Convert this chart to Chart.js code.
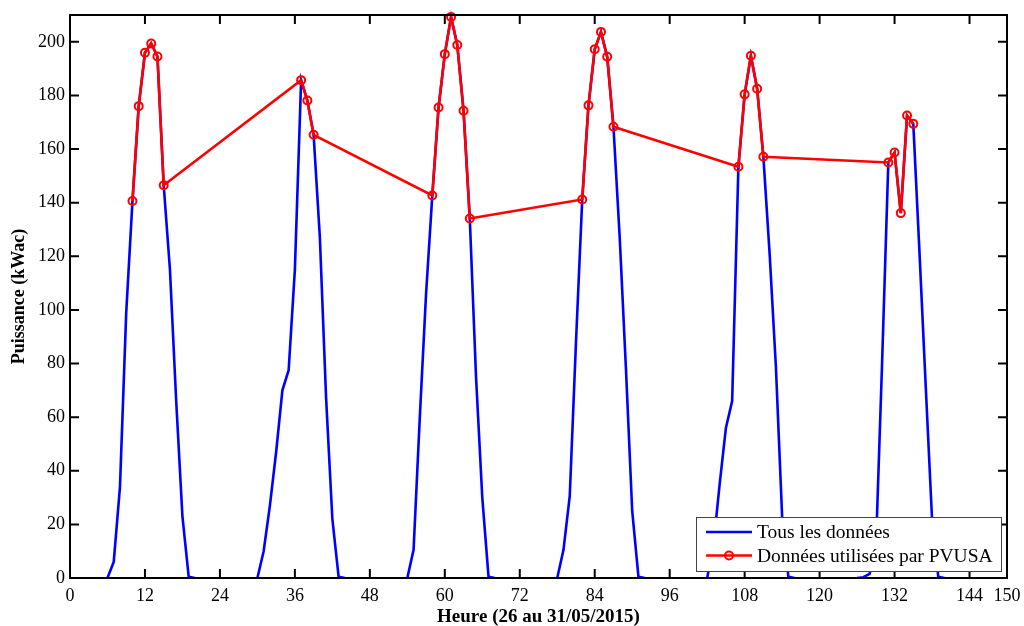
<!DOCTYPE html>
<html>
<head>
<meta charset="utf-8">
<script src="https://cdn.jsdelivr.net/npm/chart.js@4.4.1/dist/chart.umd.min.js"></script>
<style>
  body { margin: 0; background: #fff; overflow: hidden; }
  #wrap { width: 1024px; height: 626px; }
</style>
</head>
<body>
<div id="wrap"><canvas id="puissanceChart"></canvas></div>
<script>
// Tous les données : une valeur par heure, null = coupure entre deux jours
const heures = [
  6, 7, 8, 9, 10, 11, 12, 13, 14, 15, 16, 17, 18, 19, 20, 25,
  30, 31, 32, 33, 34, 35, 36, 37, 38, 39, 40, 41, 42, 43, 44, 49,
  54, 55, 56, 57, 58, 59, 60, 61, 62, 63, 64, 65, 66, 67, 68, 73,
  78, 79, 80, 81, 82, 83, 84, 85, 86, 87, 88, 89, 90, 91, 92, 97,
  102, 103, 104, 105, 106, 107, 108, 109, 110, 111, 112, 113, 114, 115, 116, 121,
  126, 127, 128, 129, 130, 131, 132, 133, 134, 135, 136, 137, 138, 139, 140
];
const puissanceTous = [
  0, 6, 34, 99, 140.6, 176, 195.9, 199.4, 194.5, 146.5, 115, 66, 23, 0.5, 0, null,
  0, 10, 27, 47, 70, 77.5, 115, 185.7, 178.1, 165.3, 127, 67, 22, 0.5, 0, null,
  0, 10.5, 60, 106, 142.7, 175.5, 195.4, 209.3, 198.8, 174.3, 134.1, 75, 30, 0.5, 0, null,
  0, 10.5, 30.5, 88, 141.2, 176.3, 197.2, 203.7, 194.4, 168.3, 127, 78, 25, 0.5, 0, null,
  0, 12, 35, 56, 66, 153.4, 180.4, 194.8, 182.5, 157.1, 121, 79, 23, 0.5, 0, null,
  0, 0.3, 1.5, 10, 80, 155, 158.7, 136.1, 172.5, 169.4, 121, 71, 22, 0.5, 0
];

// Données utilisées par PVUSA
const heuresPVUSA = [
  10, 11, 12, 13, 14, 15,
  37, 38, 39,
  58, 59, 60, 61, 62, 63, 64,
  82, 83, 84, 85, 86, 87,
  107, 108, 109, 110, 111,
  131, 132, 133, 134, 135
];
const puissancePVUSA = [
  140.6, 176, 195.9, 199.4, 194.5, 146.5,
  185.7, 178.1, 165.3,
  142.7, 175.5, 195.4, 209.3, 198.8, 174.3, 134.1,
  141.2, 176.3, 197.2, 203.7, 194.4, 168.3,
  153.4, 180.4, 194.8, 182.5, 157.1,
  155, 158.7, 136.1, 172.5, 169.4
];

const ticksHeure = [0, 12, 24, 36, 48, 60, 72, 84, 96, 108, 120, 132, 144, 150];
const ticksPuissance = [0, 20, 40, 60, 80, 100, 120, 140, 160, 180, 200];

const serif = '"Liberation Serif", "Times New Roman", serif';

function toPoints(xs, ys) {
  return xs.map((h, i) => ({ x: h, y: ys[i] }));
}

// cadre noir + graduations vers l'intérieur (haut/bas/gauche/droite)
const cadrePlugin = {
  id: 'cadre',
  afterDatasetsDraw(chart) {
    const { ctx, chartArea: a, scales: { x, y } } = chart;
    const tl = 9;
    ctx.save();
    ctx.strokeStyle = '#000';
    ctx.lineWidth = 2;
    ctx.beginPath();
    x.ticks.forEach(t => {
      const px = x.getPixelForValue(t.value);
      ctx.moveTo(px, a.bottom); ctx.lineTo(px, a.bottom - tl);
      ctx.moveTo(px, a.top); ctx.lineTo(px, a.top + tl);
    });
    y.ticks.forEach(t => {
      const py = y.getPixelForValue(t.value);
      ctx.moveTo(a.left, py); ctx.lineTo(a.left + tl, py);
      ctx.moveTo(a.right, py); ctx.lineTo(a.right - tl, py);
    });
    ctx.stroke();
    ctx.strokeRect(a.left, a.top, a.right - a.left, a.bottom - a.top);
    ctx.restore();
  }
};

// légende en bas à droite, par-dessus les courbes
const legendePlugin = {
  id: 'legende',
  afterDraw(chart) {
    const { ctx, chartArea: a } = chart;
    const w = 305, h = 54;
    const x0 = a.right - 6 - w;
    const y0 = a.bottom - 7 - h;
    ctx.save();
    ctx.fillStyle = '#fff';
    ctx.fillRect(x0, y0, w, h);
    ctx.strokeStyle = '#444';
    ctx.lineWidth = 1;
    ctx.strokeRect(x0 + 0.5, y0 + 0.5, w, h);
    ctx.font = '19.5px ' + serif;
    ctx.textBaseline = 'middle';
    chart.data.datasets.forEach((ds, i) => {
      const cy = y0 + 15 + i * 23.5;
      ctx.strokeStyle = ds.borderColor;
      ctx.lineWidth = ds.borderWidth;
      ctx.beginPath();
      ctx.moveTo(x0 + 10, cy);
      ctx.lineTo(x0 + 56, cy);
      ctx.stroke();
      if (ds.pointRadius > 0) {
        ctx.lineWidth = ds.pointBorderWidth;
        ctx.beginPath();
        ctx.arc(x0 + 33, cy, ds.pointRadius, 0, Math.PI * 2);
        ctx.stroke();
      }
      ctx.fillStyle = '#000';
      ctx.fillText(ds.label, x0 + 61, cy + 1);
    });
    ctx.restore();
  }
};

new Chart(document.getElementById('puissanceChart'), {
  type: 'line',
  data: {
    datasets: [{
      label: 'Tous les données',
      data: toPoints(heures, puissanceTous),
      borderColor: '#0000ff',
      borderWidth: 2.6,
      pointRadius: 0,
      tension: 0,
      spanGaps: false,
      order: 1
    }, {
      label: 'Données utilisées par PVUSA',
      data: toPoints(heuresPVUSA, puissancePVUSA),
      borderColor: '#ff0000',
      borderWidth: 2.6,
      pointRadius: 4,
      pointBorderWidth: 2,
      pointBorderColor: '#ff0000',
      pointBackgroundColor: 'rgba(0,0,0,0)',
      pointStyle: 'circle',
      tension: 0,
      clip: false,
      order: 0
    }]
  },
  options: {
    responsive: true,
    maintainAspectRatio: false,
    animation: false,
    layout: { padding: { top: 15, right: 17, left: 0, bottom: 0 } },
    plugins: {
      legend: { display: false },
      tooltip: { enabled: false }
    },
    scales: {
      x: {
        type: 'linear',
        min: 0,
        max: 150,
        afterBuildTicks: scale => { scale.ticks = ticksHeure.map(v => ({ value: v })); },
        afterFit: scale => {
          scale.height = 48;
          scale.paddingLeft = 0;
          scale.paddingRight = 0;
        },
        grid: { display: false, drawTicks: false },
        border: { display: false },
        ticks: {
          padding: 7,
          maxRotation: 0,
          autoSkip: false,
          color: '#000',
          font: { family: serif, size: 18 }
        },
        title: {
          display: true,
          text: 'Heure (26 au 31/05/2015)',
          color: '#000',
          font: { family: serif, size: 19, weight: 'bold' },
          padding: { top: 0, bottom: -2 }
        }
      },
      y: {
        min: 0,
        max: 210,
        afterBuildTicks: scale => { scale.ticks = ticksPuissance.map(v => ({ value: v })); },
        afterFit: scale => {
          scale.width = 70;
          scale.paddingTop = 0;
          scale.paddingBottom = 0;
        },
        grid: { display: false, drawTicks: false },
        border: { display: false },
        ticks: {
          padding: 5,
          color: '#000',
          font: { family: serif, size: 18 }
        },
        title: {
          display: true,
          text: 'Puissance (kWac)',
          color: '#000',
          font: { family: serif, size: 18, weight: 'bold' },
          padding: { top: 9, bottom: 0 }
        }
      }
    }
  },
  plugins: [cadrePlugin, legendePlugin]
});
</script>
</body>
</html>
